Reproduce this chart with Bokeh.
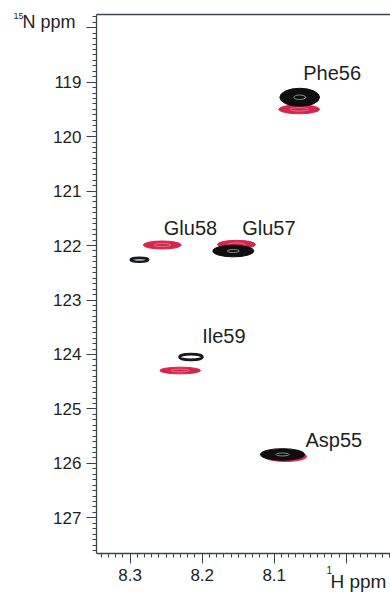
import numpy as np
from bokeh.plotting import figure
from bokeh.models import Range1d, FixedTicker, LinearAxis, Label
from bokeh.core.properties import value
from bokeh.embed import file_html
from bokeh.resources import INLINE

# ---- data (ppm) ----
residues = ["Asp55", "Phe56", "Glu57", "Glu58", "Ile59"]

# black spectrum peaks: 1H shift, 15N shift, linewidths (ppm)
black_h = [8.0885, 8.0646, 8.1568, 8.2871, 8.2156]
black_n = [125.837, 119.277, 122.100, 122.262, 124.047]
black_wh = [0.0611, 0.0551, 0.0569, 0.0270, 0.0356]
black_wn = [0.215, 0.331, 0.215, 0.101, 0.152]
weak_black = ["Glu58", "Ile59"]

# red spectrum peaks
red_h = [8.0843, 8.0653, 8.1524, 8.2554, 8.2306]
red_n = [125.874, 119.498, 121.982, 121.990, 124.295]
red_wh = [0.0583, 0.0565, 0.0528, 0.0528, 0.0565]
red_wn = [0.184, 0.165, 0.156, 0.147, 0.123]

# residue label anchors (ppm; left edge, vertical middle)
label_h = [8.0565, 8.0597, 8.1444, 8.2533, 8.2000]
label_n = [125.568, 118.826, 121.678, 121.678, 123.670]

x_ticks = [8.3, 8.2, 8.1, 8.0]
x_tick_labels = {8.3: "8.3", 8.2: "8.2", 8.1: "8.1", 8.0: ""}
y_ticks = [118, 119, 120, 121, 122, 123, 124, 125, 126, 127]
y_tick_labels = {118: ""}

# spectral window drawn by the axes (ppm)
h_axis = (8.3468, 7.9385)
n_axis = (117.757, 127.656)
# whole canvas (ppm)
x_view = (8.4801, 7.9385)
y_view = (128.390, 117.4996)

FONT = "Liberation Sans"
TXT = "#1c1f23"
AX = "#39434a"
RED = "#d6264d"
BLK = "#0e0e10"

p = figure(width=390, height=593, output_backend="svg", toolbar_location=None,
           x_range=Range1d(*x_view), y_range=Range1d(*y_view),
           x_axis_type=None, y_axis_type=None, min_border=0)
p.grid.visible = False
p.outline_line_color = None
p.background_fill_color = "white"

xa = LinearAxis(fixed_location=n_axis[1], bounds=(min(h_axis), max(h_axis)),
                ticker=FixedTicker(ticks=x_ticks,
                                   minor_ticks=list(np.round(np.arange(7.94, 8.35, 0.01), 3))),
                major_label_overrides=x_tick_labels, major_label_standoff=5)
ya = LinearAxis(fixed_location=h_axis[0], bounds=n_axis,
                ticker=FixedTicker(ticks=y_ticks,
                                   minor_ticks=list(np.round(np.arange(117.8, 127.65, 0.1), 2))),
                major_label_overrides=y_tick_labels, major_label_standoff=5)
for a in (xa, ya):
    a.axis_line_color = AX
    a.axis_line_width = 1.3
    a.major_tick_line_color = AX
    a.minor_tick_line_color = AX
    a.major_tick_out = 10
    a.major_tick_in = 0
    a.minor_tick_out = 4
    a.minor_tick_in = 0
    a.major_label_text_font = FONT
    a.major_label_text_font_size = "17px"
    a.major_label_text_color = TXT
p.add_layout(xa, "below")
p.add_layout(ya, "left")

top = LinearAxis(fixed_location=n_axis[0], bounds=(min(h_axis), max(h_axis)),
                 ticker=FixedTicker(ticks=[]), axis_line_color=AX, axis_line_width=1.3,
                 major_tick_out=0, minor_tick_out=0, major_label_standoff=0,
                 major_label_text_font_size="0px")
p.add_layout(top, "above")

# red spectrum
p.ellipse(x=red_h, y=red_n, width=red_wh, height=red_wn,
          fill_color=RED, line_color=RED, line_width=1)
p.ellipse(x=red_h, y=red_n, width=[w * 0.45 for w in red_wh], height=[h * 0.4 for h in red_wn],
          fill_color=None, line_color="#e96b86", line_width=1)

# black spectrum
strong = [i for i, r in enumerate(residues) if r not in weak_black]
weak = [i for i, r in enumerate(residues) if r in weak_black]
p.ellipse(x=[black_h[i] for i in strong], y=[black_n[i] for i in strong],
          width=[black_wh[i] for i in strong], height=[black_wn[i] for i in strong],
          fill_color=BLK, line_color=BLK, line_width=1)
p.ellipse(x=[black_h[i] for i in strong], y=[black_n[i] for i in strong],
          width=[black_wh[i] * 0.3 for i in strong], height=[black_wn[i] * 0.25 for i in strong],
          fill_color=None, line_color="#8a8a8a", line_width=1)
p.ellipse(x=[black_h[i] for i in weak], y=[black_n[i] for i in weak],
          width=[black_wh[i] * 0.9 for i in weak], height=[black_wn[i] * 0.7 for i in weak],
          fill_color="white", line_color="#15191c", line_width=2.6)

# residue labels
p.text(x=label_h, y=label_n, text=residues, text_font=value(FONT), text_font_size="20px",
       text_color=TXT, text_align="left", text_baseline="middle")

# axis titles (ppm positions, vertical middle)
def lab(x, y, t, size):
    p.add_layout(Label(x=x, y=y, text=t, text_font=FONT, text_font_size=size,
                       text_color=TXT, text_align="left", text_baseline="middle"))

lab(8.4621, 117.784, "15", "9px")
lab(8.4496, 117.894, "N ppm", "18px")
lab(8.0274, 127.959, "1", "10px")
lab(8.0219, 128.161, "H ppm", "19px")

open("out.html", "w").write(file_html(p, INLINE))
